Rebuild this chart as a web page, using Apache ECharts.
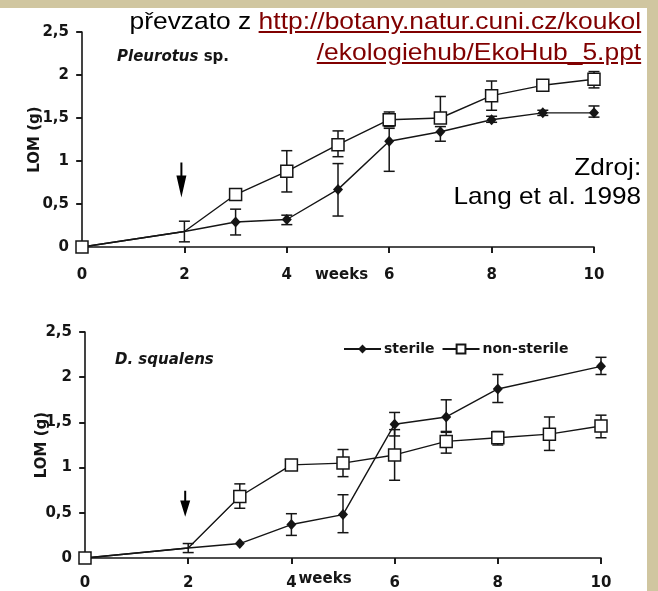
<!DOCTYPE html>
<html style="height: 100%">
 <head>
  <meta charset="utf-8" />
  <script type="text/javascript" src="https://cdn.jsdelivr.net/npm/echarts@6/dist/echarts.min.js"></script>
 </head>
 <body style="margin: 0; width: 658px; height: 591px; background-color: #d0c6a0; position: relative; overflow: hidden">
  <div style="position:absolute; left:0; top:8px; width:647px; height:583px; background-color:#ffffff"></div>
  <div id="main" style="position:absolute; left:0; top:0; width:658px; height:591px"></div>
  <div style="position:absolute; right:17px; top:5px; text-align:right; font-family:'Liberation Sans', Arial, sans-serif; font-size:24px; line-height:31px; transform:scaleX(1.1); transform-origin:right top; white-space:nowrap; color:#000">
   převzato z <a href="http://botany.natur.cuni.cz/koukol/ekologiehub/EkoHub_5.ppt" style="color:#800000">http://botany.natur.cuni.cz/koukol<br />/ekologiehub/EkoHub_5.ppt</a>
  </div>
  <div style="position:absolute; right:17px; top:152px; text-align:right; font-family:'Liberation Sans', Arial, sans-serif; font-size:24px; line-height:29px; transform:scaleX(1.09); transform-origin:right top; white-space:nowrap; color:#000">
   Zdroj:<br />Lang et al. 1998
  </div>
  <script type="text/javascript">
   // weeks on the x axis (same for both panels)
   var weeks = [0, 2, 3, 4, 5, 6, 7, 8, 9, 10];
   var noMarkWeek = 2;

   // Pleurotus sp. (top)
   var pSterile    = [0, 0.18, 0.29, 0.32, 0.67, 1.23, 1.34, 1.48, 1.56, 1.56];
   var pSterileLo  = [null, 0.06, 0.14, 0.26, 0.36, 0.88, 1.23, 1.45, 1.53, 1.51];
   var pSterileHi  = [null, 0.30, 0.44, 0.37, 0.97, 1.38, 1.40, 1.52, 1.59, 1.64];
   var pNon        = [0, 0.18, 0.61, 0.88, 1.19, 1.48, 1.50, 1.76, 1.88, 1.95];
   var pNonLo      = [null, null, 0.58, 0.64, 1.05, 1.40, 1.47, 1.59, 1.85, 1.85];
   var pNonHi      = [null, null, 0.64, 1.12, 1.35, 1.57, 1.75, 1.93, 1.91, 2.04];

   // D. squalens (bottom)
   var dSterile    = [0, 0.11, 0.16, 0.37, 0.48, 1.48, 1.56, 1.87, null, 2.12];
   var dSterileLo  = [null, 0.06, null, 0.25, 0.28, 1.35, 1.39, 1.72, null, 2.03];
   var dSterileHi  = [null, 0.16, null, 0.49, 0.70, 1.61, 1.75, 2.03, null, 2.22];
   var dNon        = [0, 0.11, 0.68, 1.03, 1.05, 1.14, 1.29, 1.33, 1.37, 1.46];
   var dNonLo      = [null, null, 0.55, 0.99, 0.90, 0.86, 1.16, 1.25, 1.19, 1.33];
   var dNonHi      = [null, null, 0.82, 1.06, 1.20, 1.42, 1.40, 1.40, 1.56, 1.58];

   // inoculation arrows (data coords)
   var arrowTop = [2, 0.78];
   var arrowBottom = [2, 0.6];

   var ink = '#151515';
   var font = 'DejaVu Sans';

   function lineData(vals) {
     var out = [];
     weeks.forEach(function (w, i) {
       if (vals[i] == null) return;
       var item = { value: [w, vals[i]] };
       if (w === noMarkWeek) item.symbol = 'none';
       out.push(item);
     });
     return out;
   }

   function errData(lo, hi) {
     var out = [];
     weeks.forEach(function (w, i) {
       if (lo[i] == null) return;
       out.push([w, lo[i], hi[i]]);
     });
     return out;
   }

   function renderErr(params, api) {
     var x = api.value(0);
     var lo = api.coord([x, api.value(1)]);
     var hi = api.coord([x, api.value(2)]);
     var w = 5.5;
     var st = { stroke: ink, lineWidth: 1.5 };
     return {
       type: 'group',
       children: [
         { type: 'line', shape: { x1: lo[0], y1: lo[1], x2: hi[0], y2: hi[1] }, style: st },
         { type: 'line', shape: { x1: lo[0] - w, y1: lo[1], x2: lo[0] + w, y2: lo[1] }, style: st },
         { type: 'line', shape: { x1: hi[0] - w, y1: hi[1], x2: hi[0] + w, y2: hi[1] }, style: st }
       ]
     };
   }

   var labelStyle = { color: ink, fontFamily: font, fontWeight: 'bold', fontSize: 15 };

   function xAxisMain(g, margin, nameGap, namePad) {
     return {
       type: 'value', gridIndex: g, min: 0, max: 10, interval: 2,
       name: 'weeks', nameLocation: 'middle', nameGap: nameGap, nameMoveOverlap: false,
       nameTextStyle: Object.assign({ padding: namePad }, labelStyle),
       axisLine: { lineStyle: { color: ink, width: 1.6 } },
       axisTick: { length: 6, lineStyle: { color: ink, width: 1.6 } },
       axisLabel: Object.assign({ margin: margin }, labelStyle),
       splitLine: { show: false }
     };
   }
   function xAxisInner(g) {
     return {
       type: 'value', gridIndex: g, min: 0, max: 10, interval: 2,
       axisLine: { show: false },
       axisTick: { inside: true, length: 6, lineStyle: { color: ink, width: 1.6 } },
       axisLabel: { show: false }, splitLine: { show: false }
     };
   }
   function yAxisMain(g, nameGap) {
     return {
       type: 'value', gridIndex: g, min: 0, max: 2.5, interval: 0.5,
       name: 'LOM (g)', nameLocation: 'middle', nameGap: nameGap, nameMoveOverlap: false,
       nameTextStyle: labelStyle,
       axisLine: { show: true, lineStyle: { color: ink, width: 1.6 } },
       axisTick: { show: true, length: 6, lineStyle: { color: ink, width: 1.6 } },
       axisLabel: Object.assign({
         margin: 13,
         formatter: function (v) { return String(v).replace('.', ','); }
       }, labelStyle),
       splitLine: { show: false }
     };
   }
   function yAxisInner(g) {
     return {
       type: 'value', gridIndex: g, min: 0, max: 2.5, interval: 0.5,
       axisLine: { show: false },
       axisTick: { show: true, inside: true, length: 5, lineStyle: { color: ink, width: 1.6 } },
       axisLabel: { show: false }, splitLine: { show: false }
     };
   }

   var arrowPath = 'path://M4,0 L6,0 L6,13 L10,13 L5,35 L0,13 L4,13 Z';

   function sterileSeries(name, g, vals, arrow, arrowSize) {
     return {
       name: name, type: 'line', xAxisIndex: g * 2, yAxisIndex: g * 2,
       data: lineData(vals), z: 3,
       symbol: 'diamond', symbolSize: [10, 11],
       lineStyle: { color: ink, width: 1.4 },
       itemStyle: { color: ink },
       markPoint: {
         symbol: arrowPath, symbolSize: arrowSize, symbolOffset: [-3, 0],
         itemStyle: { color: '#000' }, label: { show: false },
         data: [{ coord: arrow }]
       }
     };
   }
   function nonSeries(name, g, vals) {
     return {
       name: name, type: 'line', xAxisIndex: g * 2, yAxisIndex: g * 2,
       data: lineData(vals), z: 4,
       symbol: 'rect', symbolSize: 12,
       lineStyle: { color: ink, width: 1.4 },
       itemStyle: { color: '#ffffff', borderColor: ink, borderWidth: 1.5 }
     };
   }
   function errSeries(g, lo, hi) {
     return {
       type: 'custom', xAxisIndex: g * 2, yAxisIndex: g * 2, z: 2,
       renderItem: renderErr, encode: { x: 0, y: [1, 2] },
       data: errData(lo, hi), silent: true
     };
   }

   var myChart = echarts.init(document.getElementById('main'));
   var option = {
     animation: false,
     backgroundColor: 'transparent',
     grid: [
       { left: 82, top: 32, width: 512, height: 215, outerBoundsMode: 'none' },
       { left: 85, top: 332, width: 516, height: 226, outerBoundsMode: 'none' }
     ],
     xAxis: [
       xAxisMain(0, 21, 21, [0, 0, 0, 7]), xAxisInner(0),
       xAxisMain(1, 18, 14, [0, 36, 0, 0]), xAxisInner(1)
     ],
     yAxis: [
       yAxisMain(0, 39), yAxisInner(0),
       yAxisMain(1, 35), yAxisInner(1)
     ],
     legend: {
       left: 343, top: 342, padding: 0, itemWidth: 37, itemHeight: 11, itemGap: 7,
       data: ['sterile', 'non-sterile'],
       textStyle: Object.assign({}, labelStyle, { fontSize: 14, padding: [0, 0, 0, -2] })
     },
     graphic: [
       {
         type: 'text', left: 117, top: 50,
         style: {
           text: '{i|Pleurotus} sp.',
           fill: ink, fontFamily: font, fontWeight: 'bold', fontSize: 15,
           rich: { i: { fontStyle: 'italic', fontFamily: font, fontWeight: 'bold', fontSize: 15, color: ink } }
         }
       },
       {
         type: 'text', left: 115, top: 353,
         style: { text: 'D. squalens', fill: ink, fontFamily: font, fontWeight: 'bold', fontStyle: 'italic', fontSize: 15 }
       }
     ],
     series: [
       errSeries(0, pSterileLo, pSterileHi),
       errSeries(0, pNonLo, pNonHi),
       sterileSeries('sterile', 0, pSterile, arrowTop, [10, 35]),
       nonSeries('non-sterile', 0, pNon),
       errSeries(1, dSterileLo, dSterileHi),
       errSeries(1, dNonLo, dNonHi),
       sterileSeries('sterile', 1, dSterile, arrowBottom, [10, 26]),
       nonSeries('non-sterile', 1, dNon)
     ]
   };
   option && myChart.setOption(option);
  </script>
 </body>
</html>
